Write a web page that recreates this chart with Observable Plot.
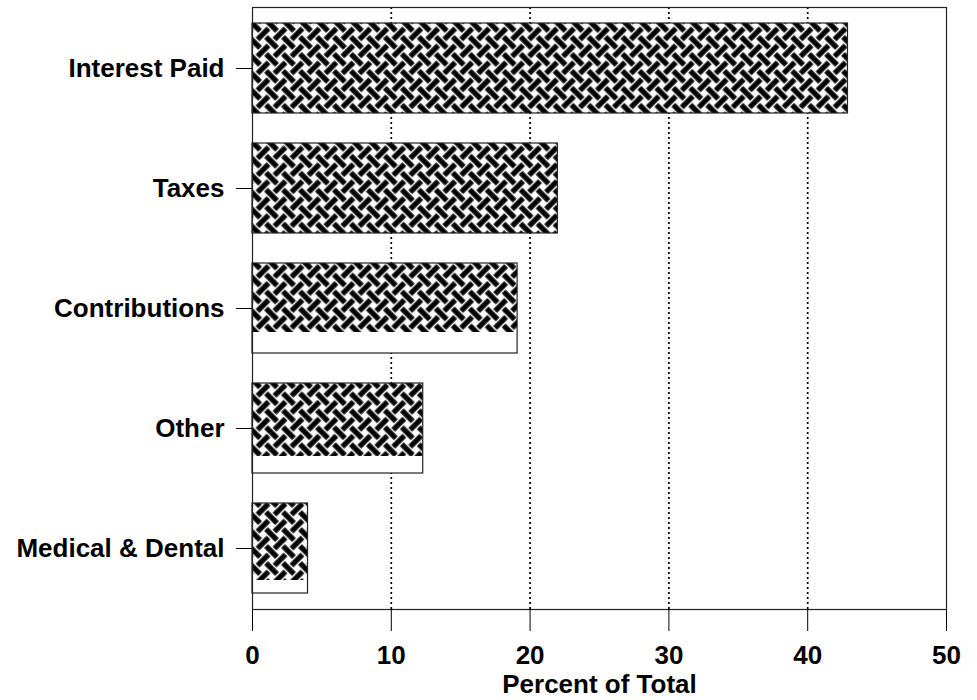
<!DOCTYPE html>
<html><head><meta charset="utf-8">
<script src="https://cdn.jsdelivr.net/npm/d3@7"></script>
<script src="https://cdn.jsdelivr.net/npm/@observablehq/plot@0.6"></script>
<style>body{margin:0;background:#fff}</style>
</head><body><div id="chart"></div>
<script>
const categories = ["Interest Paid", "Taxes", "Contributions", "Other", "Medical & Dental"];
const percents = [42.9, 22.0, 19.1, 12.3, 4.0];
const xTicks = [0, 10, 20, 30, 40, 50];
const gridTicks = [10, 20, 30, 40];
const xLabel = "Percent of Total";

const data = categories.map((c, i) => ({category: c, value: percents[i]}));

const font = "'Liberation Sans', Arial, Helvetica, sans-serif";

// the original's hatch does not reach the bottom of some bars (rendering artifact): px left blank
const patternInset = {"Contributions": 21, "Other": 17, "Medical & Dental": 13};

const chart = Plot.plot({
  width: 977, height: 700,
  marginLeft: 252, marginRight: 31, marginTop: 7, marginBottom: 91,
  style: {fontFamily: font, fontSize: "26px", fontWeight: "bold", background: "#fff", color: "#000", overflow: "visible"},
  x: {domain: [0, 50], ticks: xTicks},
  y: {domain: categories, paddingInner: 0.25, paddingOuter: 0.125},
  marks: [
    Plot.ruleX(gridTicks, {stroke: "#000", strokeWidth: 1.7, strokeDasharray: "2,3"}),
    Plot.barX(data, {y: "category", x: "value", fill: "#fff"}),
    ...categories.map(c => Plot.barX(data.filter(d => d.category === c),
      {y: "category", x: "value", fill: "url(#weave)", insetBottom: patternInset[c] || 0})),
    Plot.barX(data, {y: "category", x: "value", fill: "none", stroke: "#222", strokeWidth: 1.2}),
    Plot.frame({stroke: "#222", strokeWidth: 1.2}),
    Plot.axisX({ticks: xTicks, tickSize: 22, tickPadding: 14, label: null, fontSize: 26, fontWeight: "bold"}),
    Plot.axisY({tickSize: 16, tickPadding: 12, label: null, fontSize: 26, fontWeight: "bold"}),
    Plot.text([xLabel], {frameAnchor: "bottom", lineAnchor: "top", dy: 65, fontSize: 26, fontWeight: "bold", text: d => d})
  ]
});

document.getElementById("chart").appendChild(chart);

// weave pattern definition
const svg = d3.select(chart.tagName === "svg" ? chart : chart.querySelector("svg"));
const c = 12, L = 15.5, t = 5.3;
const defs = svg.insert("defs", ":first-child");
const pat = defs.append("pattern")
  .attr("id", "weave")
  .attr("patternUnits", "userSpaceOnUse")
  .attr("width", 2 * c).attr("height", 2 * c)
  .attr("patternTransform", "rotate(45)");
pat.append("rect").attr("width", 2 * c).attr("height", 2 * c).attr("fill", "#fff");
const base = [
  {x: (c - L) / 2, y: (c - t) / 2, w: L, h: t},
  {x: c + (c - L) / 2, y: c + (c - t) / 2, w: L, h: t},
  {x: c + (c - t) / 2, y: (c - L) / 2, w: t, h: L},
  {x: (c - t) / 2, y: c + (c - L) / 2, w: t, h: L}
];
for (const r of base) {
  for (const dx of [-2 * c, 0, 2 * c]) for (const dy of [-2 * c, 0, 2 * c]) {
    pat.append("rect").attr("x", r.x + dx).attr("y", r.y + dy)
      .attr("width", r.w).attr("height", r.h).attr("fill", "#000");
  }
}
</script>
</body></html>
